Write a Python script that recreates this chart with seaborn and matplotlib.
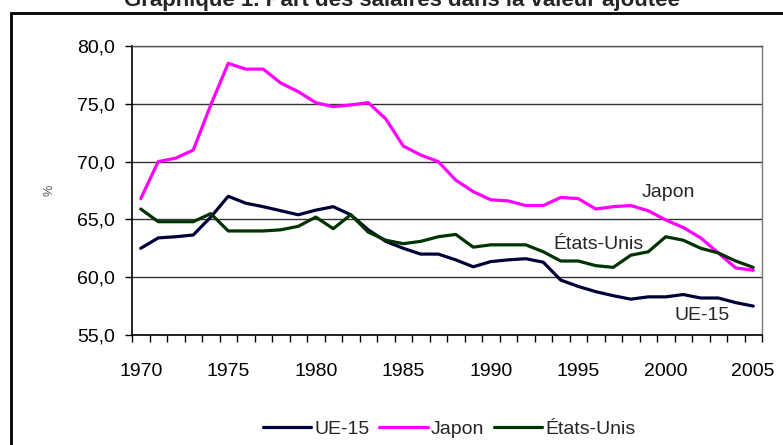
import matplotlib
matplotlib.use("Agg")
import matplotlib.pyplot as plt
from matplotlib.patches import Rectangle
from matplotlib.ticker import FuncFormatter, MultipleLocator
import numpy as np
import pandas as pd
import seaborn as sns

# data (% of value added)
years = list(range(1970, 2006))
ue15 = [62.5, 63.4, 63.5, 63.65, 65.2, 67.0, 66.4, 66.1, 65.75, 65.4,
        65.8, 66.1, 65.4, 64.1, 63.1, 62.5, 62.0, 62.0, 61.5, 60.9,
        61.35, 61.5, 61.6, 61.3, 59.75, 59.2, 58.75, 58.4, 58.1, 58.3,
        58.3, 58.5, 58.2, 58.2, 57.8, 57.5]
japon = [66.8, 70.0, 70.3, 71.0, 74.9, 78.5, 78.0, 78.0, 76.8, 76.05,
         75.1, 74.75, 74.9, 75.1, 73.7, 71.35, 70.57, 70.0, 68.4, 67.4,
         66.7, 66.6, 66.2, 66.2, 66.9, 66.8, 65.9, 66.1, 66.2, 65.75,
         64.95, 64.3, 63.4, 62.1, 60.8, 60.6]
etats_unis = [65.9, 64.8, 64.8, 64.8, 65.5, 64.0, 64.0, 64.0, 64.1, 64.4,
              65.2, 64.2, 65.4, 63.9, 63.2, 62.9, 63.1, 63.5, 63.7, 62.6,
              62.8, 62.8, 62.8, 62.2, 61.4, 61.4, 61.0, 60.85, 61.9, 62.2,
              63.5, 63.2, 62.5, 62.1, 61.4, 60.85]

series = ["UE-15", "Japon", "États-Unis"]
colors = {"UE-15": "#000038", "Japon": "#ff00ff", "États-Unis": "#003300"}

df = pd.concat([
    pd.DataFrame({"Année": years, "Valeur": ue15, "Série": "UE-15"}),
    pd.DataFrame({"Année": years, "Valeur": japon, "Série": "Japon"}),
    pd.DataFrame({"Année": years, "Valeur": etats_unis, "Série": "États-Unis"}),
])

sns.set_theme(style="white")
plt.rcParams["font.family"] = ["Liberation Sans", "DejaVu Sans"]

fig = plt.figure(figsize=(7.83, 4.45), dpi=100)
ax = fig.add_axes([132 / 783, 1 - 335 / 445, (762 - 132) / 783, (335 - 46) / 445])

sns.lineplot(data=df, x="Année", y="Valeur", hue="Série", hue_order=series,
             palette=colors, linewidth=2.3, ax=ax, legend=False)

ax.set_xlim(1969.5, 2005.5)
ax.set_ylim(55, 80)
ax.yaxis.set_major_locator(MultipleLocator(5))
ax.yaxis.set_major_formatter(FuncFormatter(lambda v, p: f"{v:.1f}".replace(".", ",")))
ax.set_xticks(range(1970, 2006, 5))
ax.set_xticks(np.arange(1969.5, 2006, 1), minor=True)
ax.tick_params(axis="x", which="major", length=0, labelsize=14, pad=20, colors="black")
ax.tick_params(axis="x", which="minor", length=5, width=1, direction="out",
               color="black", bottom=True)
ax.tick_params(axis="y", which="major", length=5, width=1, direction="out",
               left=True, labelsize=14, pad=7, colors="black")
ax.set_xlabel("")
ax.set_ylabel("%", fontsize=9, color="#555555", labelpad=16)

ax.grid(axis="y", color="#333333", linewidth=1)
ax.set_axisbelow(True)
for side in ["left", "bottom"]:
    ax.spines[side].set_color("black")
    ax.spines[side].set_linewidth(1.2)
ax.spines["right"].set_color("#777777")
ax.spines["top"].set_color("#555555")
ax.spines["right"].set_linewidth(1)
ax.spines["top"].set_linewidth(1)

ax.text(2000.15, 67.3, "Japon", fontsize=14, ha="center", va="center")
ax.text(1996.15, 62.8, "États-Unis", fontsize=14, ha="center", va="center")
ax.text(2002.1, 56.7, "UE-15", fontsize=14, ha="center", va="center")

handles = [plt.Line2D([], [], color=colors[s], linewidth=2.3) for s in series]
fig.legend(handles, series, loc="center", bbox_to_anchor=(449 / 783, 1 - 429 / 445),
           ncol=3, frameon=False, fontsize=14, handlelength=2.5,
           handletextpad=0.15, columnspacing=0.5)

fig.text(402 / 783, 1 - 6 / 445, "Graphique 1. Part des salaires dans la valeur ajoutée",
         ha="center", va="baseline", fontsize=16, fontweight="bold")

fig.patches.append(Rectangle((11 / 783, -0.1), 1.2, 1.1 - 13 / 445,
                             transform=fig.transFigure, fill=False,
                             edgecolor="black", linewidth=2))

fig.savefig("out.png", dpi=100, facecolor="white")
